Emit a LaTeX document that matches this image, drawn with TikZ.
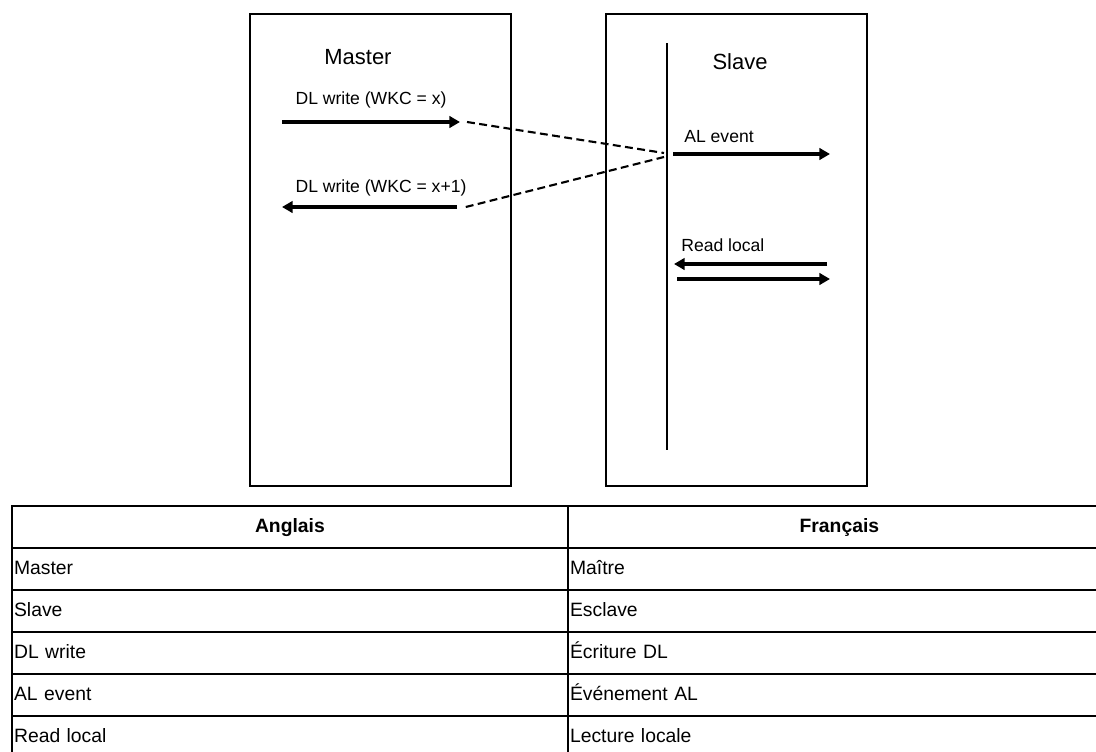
\documentclass[tikz,border=0pt]{standalone}
\usepackage{fontspec}
\setmainfont{Liberation Sans}
\usetikzlibrary{positioning,arrows.meta}

\begin{document}
\begin{tikzpicture}[x=0.02cm, y=-0.02cm,
  box/.style={draw=black, line width=1.3pt, minimum width=5.22cm, minimum height=9.44cm},
  title/.style={font=\fontsize{12.5}{14}\selectfont, inner sep=0pt},
  lbl/.style={font=\fontsize{10}{12}\selectfont, inner sep=0pt},
  msg/.style={line width=1.9pt, -{Triangle[length=6pt, width=6.5pt]}},
  echo/.style={line width=1.2pt, dash pattern=on 4.5pt off 2.5pt},
  cell/.style={draw=black, line width=1.1pt, minimum height=0.84cm, inner xsep=1.2pt, inner ysep=0pt, text height=9.5pt, text depth=3pt, align=left, anchor=north west, font=\fontsize{11}{13}\selectfont},
  hcell/.style={cell, align=center, font=\fontsize{11}{13}\selectfont\bfseries}]
\useasboundingbox (0,0) rectangle (1096,751);
% two stations
\node[box] (master) at (380.5,250) {};
\node[box] (slave) at (736.5,250) {};
\node[title] (mtitle) at (358,57) {Master};
\node[title] (stitle) at (740,62) {Slave};
\coordinate (ltop) at (667,43);
\coordinate (lbot) at (667,450);
\draw[line width=1.5pt] (ltop) -- (lbot);
% frame going out and coming back
\coordinate (w1s) at (282,122);
\coordinate (w1e) at (460,122);
\coordinate (w2s) at (457,207);
\coordinate (w2e) at (282,207);
\coordinate (hit1) at (664,153);
\coordinate (hit2) at (664,157);
\draw[msg] (w1s) -- (w1e);
\draw[msg] (w2s) -- (w2e);
\node[lbl] (w1lbl) at (371,100) {DL write (WKC = x)};
\node[lbl] (w2lbl) at (381,188) {DL write (WKC = x+1)};
\draw[echo] ([xshift=4pt]w1e) -- (hit1);
\draw[echo] ([xshift=5pt]w2s) -- (hit2);
% slave side
\coordinate (ev1) at (673,154);
\coordinate (ev2) at (830,154);
\draw[msg] (ev1) -- (ev2);
\node[lbl, anchor=west] (evlbl) at (684,137) {AL event};
\coordinate (rd1) at (827,264);
\coordinate (rd2) at (674,264);
\coordinate (rd3) at (677,279);
\coordinate (rd4) at (830,279);
\draw[msg] (rd1) -- (rd2);
\draw[msg] (rd3) -- (rd4);
\node[lbl, anchor=west] (rdlbl) at (681,245) {Read local};
% glossary
\node[hcell, text width=11.12cm-2.4pt] (hen) at (11,505) {Anglais};
\node[hcell, text width=10.86cm-2.4pt] (hfr) at (567,505) {Français};
\foreach \en/\fr [count=\i] in {Master/Maître, Slave/Esclave, DL write/Écriture DL, AL event/Événement AL, Read local/Lecture locale}{
  \node[cell, text width=11.12cm-2.4pt] (en\i) at (11,505+42*\i) {\en};
  \node[cell, text width=10.86cm-2.4pt] (fr\i) at (567,505+42*\i) {\fr};
}
\end{tikzpicture}
\end{document}
